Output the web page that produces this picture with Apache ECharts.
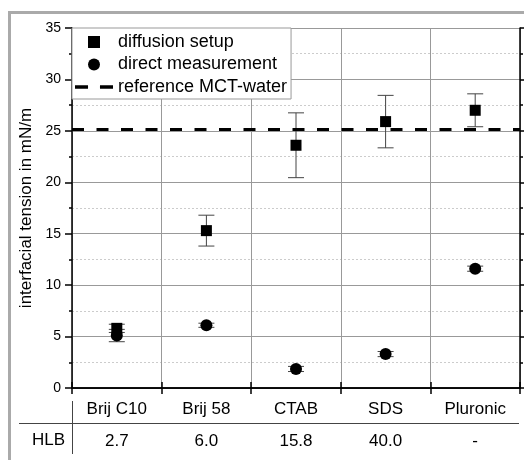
<!DOCTYPE html>
<html>
<head>
<meta charset="utf-8">
<script src="https://cdn.jsdelivr.net/npm/echarts@6/dist/echarts.min.js"></script>
<style>
html,body{margin:0;padding:0;background:#fff;}
#chart{width:524px;height:460px;}
</style>
</head>
<body>
<div id="chart"></div>
<script>
// ---- data ----
const categories = ['Brij C10', 'Brij 58', 'CTAB', 'SDS', 'Pluronic'];
const hlbValues = ['2.7', '6.0', '15.8', '40.0', '-'];
const diffusionSetup = [5.8, 15.3, 23.6, 25.9, 27.0];
const diffusionErr = [0.4, 1.5, 3.15, 2.55, 1.6];
const directMeasurement = [5.1, 6.1, 1.85, 3.3, 11.6];
const directErr = [0.6, 0.2, 0.25, 0.25, 0.25];
const referenceMCTWater = 25.2;
const yMin = 0, yMax = 35, yInterval = 5;

const FONT = 'Liberation Sans, Arial, sans-serif';
const chart = echarts.init(document.getElementById('chart'), null, {renderer: 'canvas'});

function errData(vals, errs) {
  return vals.map((v, i) => [i, v - errs[i], v + errs[i]]);
}
function errRender(params, api) {
  const x = api.value(0);
  const lo = api.coord([x, api.value(1)]);
  const hi = api.coord([x, api.value(2)]);
  const hw = 8;
  const st = {stroke: '#444', lineWidth: 1};
  return {
    type: 'group',
    children: [
      {type: 'line', shape: {x1: lo[0], y1: lo[1], x2: hi[0], y2: hi[1]}, style: st},
      {type: 'line', shape: {x1: lo[0] - hw, y1: lo[1], x2: lo[0] + hw, y2: lo[1]}, style: st},
      {type: 'line', shape: {x1: hi[0] - hw, y1: hi[1], x2: hi[0] + hw, y2: hi[1]}, style: st}
    ]
  };
}

const SQUARE_ICON = 'path://M0,0L10,0L10,10L0,10Z';
const DASH_ICON = 'path://M0,0L12,0L12,3L0,3Z M23,0L35,0L35,3L23,3Z';

const option = {
  backgroundColor: '#fff',
  animation: false,
  textStyle: {fontFamily: FONT},
  grid: {left: 72, right: 4, top: 28, bottom: 72},
  legend: {
    left: 72, top: 28,
    orient: 'vertical',
    backgroundColor: '#fff',
    borderColor: '#999', borderWidth: 1, borderRadius: 0,
    padding: [5, 4, 3, 3],
    itemWidth: 38, itemHeight: 12, itemGap: 4.5,
    symbolKeepAspect: true,
    textStyle: {fontSize: 18, color: '#000', fontFamily: FONT, lineHeight: 18},
    data: [
      {name: 'diffusion setup', icon: SQUARE_ICON, itemStyle: {color: '#000', opacity: 1}},
      {name: 'direct measurement', icon: 'circle', itemStyle: {color: '#000', opacity: 1}},
      {name: 'reference MCT-water', icon: DASH_ICON, itemStyle: {color: '#000', opacity: 1}}
    ]
  },
  xAxis: [
    {
      type: 'category', data: categories, position: 'bottom', boundaryGap: true,
      axisLine: {lineStyle: {color: '#000', width: 1.5}},
      axisTick: {show: true, length: 6, inside: false, lineStyle: {color: '#000', width: 1.5}},
      axisLabel: {fontSize: 17, color: '#000', margin: 13, fontFamily: FONT},
      splitLine: {show: true, lineStyle: {color: '#999', width: 1}}
    },
    {
      type: 'category', data: categories, position: 'top', boundaryGap: true,
      axisLine: {lineStyle: {color: '#000', width: 1.5}},
      axisTick: {show: true, length: 6, inside: false, lineStyle: {color: '#000', width: 1.5}},
      axisLabel: {show: false},
      splitLine: {show: false}
    },
    {
      type: 'category', data: hlbValues, position: 'bottom', offset: 32, boundaryGap: true,
      axisLine: {show: false}, axisTick: {show: false},
      axisLabel: {fontSize: 17, color: '#000', margin: 13, fontFamily: FONT},
      splitLine: {show: false}
    }
  ],
  yAxis: [
    {
      type: 'value', min: yMin, max: yMax, interval: yInterval, position: 'left',
      name: 'interfacial tension in mN/m', nameLocation: 'middle', nameGap: 24,
      nameTextStyle: {fontSize: 17, color: '#000', fontFamily: FONT},
      axisLine: {show: true, lineStyle: {color: '#000', width: 1.5}},
      axisTick: {show: true, length: 7, inside: false, lineStyle: {color: '#000', width: 1.5}},
      minorTick: {show: true, splitNumber: 2, length: 3, lineStyle: {color: '#000', width: 1.5}},
      axisLabel: {fontSize: 14, color: '#000', margin: 11, fontFamily: FONT},
      splitLine: {show: true, lineStyle: {color: '#999', width: 1}},
      minorSplitLine: {show: true, lineStyle: {color: '#ccc', width: 1, type: [2, 2]}}
    },
    {
      type: 'value', min: yMin, max: yMax, interval: yInterval, position: 'right',
      axisLine: {show: true, lineStyle: {color: '#000', width: 1.5}},
      axisTick: {show: true, length: 5, inside: false, lineStyle: {color: '#000', width: 1.5}},
      minorTick: {show: true, splitNumber: 2, length: 3, lineStyle: {color: '#000', width: 1.5}},
      axisLabel: {show: false},
      splitLine: {show: false}
    }
  ],
  series: [
    {
      name: 'diffusion setup err', type: 'custom', xAxisIndex: 0, yAxisIndex: 0,
      renderItem: errRender, data: errData(diffusionSetup, diffusionErr), z: 3, silent: true
    },
    {
      name: 'direct measurement err', type: 'custom', xAxisIndex: 0, yAxisIndex: 0,
      renderItem: errRender, data: errData(directMeasurement, directErr), z: 3, silent: true
    },
    {
      name: 'diffusion setup', type: 'scatter', xAxisIndex: 0, yAxisIndex: 0,
      symbol: 'rect', symbolSize: 11, itemStyle: {color: '#000', opacity: 1},
      data: diffusionSetup.map((v, i) => [i, v]), z: 5
    },
    {
      name: 'direct measurement', type: 'scatter', xAxisIndex: 0, yAxisIndex: 0,
      symbol: 'circle', symbolSize: 12, itemStyle: {color: '#000', opacity: 1},
      data: directMeasurement.map((v, i) => [i, v]), z: 5
    },
    {
      name: 'reference MCT-water', type: 'line', xAxisIndex: 0, yAxisIndex: 0,
      data: [], symbol: 'none', showSymbol: false,
      itemStyle: {color: '#000'},
      lineStyle: {color: '#000', width: 3, type: [12, 10]},
      markLine: {
        silent: true, symbol: ['none', 'none'], label: {show: false},
        lineStyle: {color: '#000', width: 3, type: [12, 12.5]},
        data: [{yAxis: referenceMCTWater}]
      },
      z: 4
    }
  ],
  graphic: [
    {type: 'rect', shape: {x: 9.5, y: 12.5, width: 700, height: 700},
     style: {fill: 'none', stroke: '#aaa', lineWidth: 3}, silent: true, z: 100},
    {type: 'line', shape: {x1: 19, y1: 423.5, x2: 519, y2: 423.5},
     style: {stroke: '#444', lineWidth: 1}, silent: true},
    {type: 'line', shape: {x1: 72.5, y1: 401, x2: 72.5, y2: 454},
     style: {stroke: '#444', lineWidth: 1}, silent: true},
    {type: 'text', x: 65, y: 440,
     style: {text: 'HLB', fontSize: 17, fill: '#000', fontFamily: FONT, align: 'right', verticalAlign: 'middle'}}
  ]
};
chart.setOption(option);
</script>
</body>
</html>
